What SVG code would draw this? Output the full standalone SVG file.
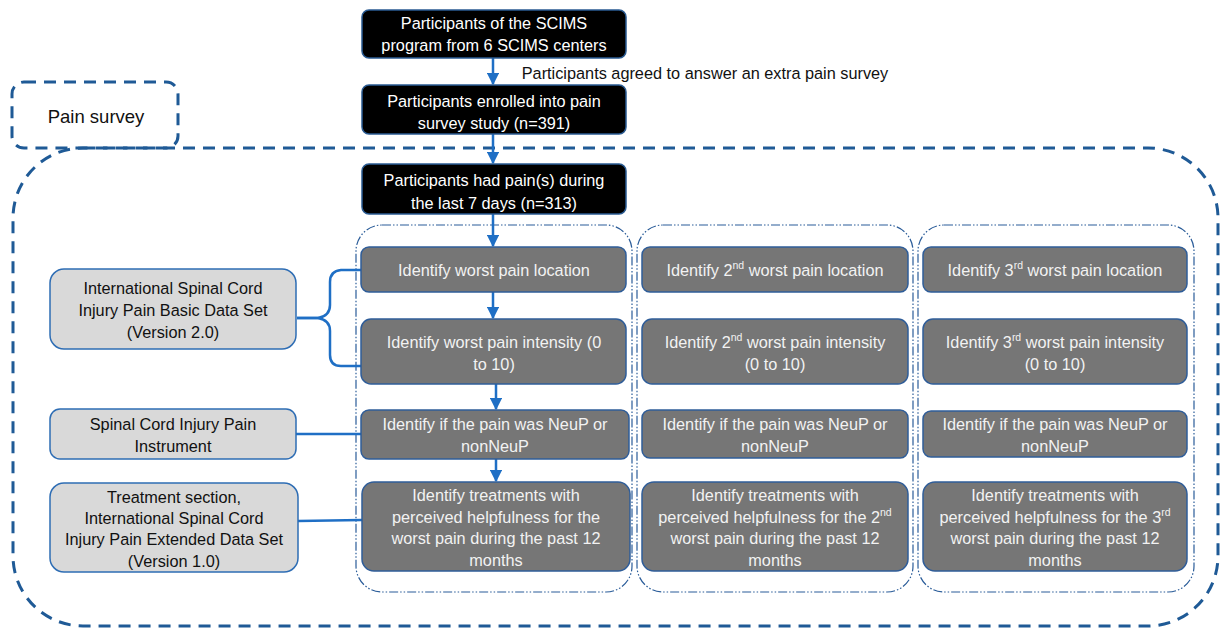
<svg xmlns="http://www.w3.org/2000/svg" width="1222" height="629" viewBox="0 0 1222 629">
<defs>
<marker id="ah" viewBox="0 0 10 10" refX="9" refY="5" markerWidth="5" markerHeight="5" orient="auto" markerUnits="strokeWidth">
<path d="M0,0 L10,5 L0,10 z" fill="#1f6fc5"/>
</marker>
<style>
text{font-family:"Liberation Sans",Arial,sans-serif;font-size:16.3px;text-anchor:middle;dominant-baseline:central}
.blk rect{fill:#000;stroke:#2a5b92;stroke-width:1.5}
.blk text{fill:#fff}
.gry rect{fill:#767676;stroke:#2f5d99;stroke-width:1.5}
.gry text{fill:#f2f2f2}
.lgt rect{fill:#d9d9d9;stroke:#2e6db4;stroke-width:1.5}
.lgt text{fill:#111}
.col{fill:none;stroke:#2a5c99;stroke-width:1.2;stroke-dasharray:9 2 1.5 2 1.5 2}
.big{fill:none;stroke:#1f5a96;stroke-width:3;stroke-dasharray:12 8}
.con{fill:none;stroke:#1f6fc5;stroke-width:2.5}
.sup{font-size:10.5px}
</style>
</defs>

<g id="survey-frame">
<rect class="big" x="13" y="148" width="1205" height="478" rx="70"/>
</g>
<g id="pain-survey-label">
<rect class="big" x="12" y="82" width="166" height="66" rx="12"/>
<text x="96" y="116" style="fill:#111;font-size:18.5px">Pain survey</text>
</g>

<g id="columns">
<rect class="col" x="356" y="225" width="276" height="367" rx="26"/>
<rect class="col" x="637" y="225" width="276" height="367" rx="26"/>
<rect class="col" x="918" y="225" width="276" height="367" rx="26"/>
</g>

<g id="connectors">
<line class="con" x1="493" y1="58" x2="493" y2="84" marker-end="url(#ah)"/>
<line class="con" x1="493" y1="134" x2="493" y2="163" marker-end="url(#ah)"/>
<line class="con" x1="493" y1="214" x2="493" y2="246" marker-end="url(#ah)"/>
<line class="con" x1="493" y1="292" x2="493" y2="318" marker-end="url(#ah)"/>
<line class="con" x1="496" y1="384" x2="496" y2="409" marker-end="url(#ah)"/>
<line class="con" x1="496" y1="459" x2="496" y2="481" marker-end="url(#ah)"/>
<path class="con" d="M297,318 L318,318 Q330,316 330,305 L330,282 Q330,271 341,270 L361,270"/>
<path class="con" d="M297,318 L318,318 Q330,320 330,331 L330,355 Q330,366 341,366 L361,366"/>
<line class="con" x1="296" y1="434" x2="361" y2="434"/>
<line class="con" x1="298" y1="521" x2="362" y2="520"/>
</g>
<text x="705" y="73" style="fill:#111">Participants agreed to answer an extra pain survey</text>

<g id="n-scims" class="blk">
<rect x="362" y="10" width="264" height="48" rx="7"/>
<text x="494" y="23">Participants of the SCIMS</text>
<text x="494" y="45">program from 6 SCIMS centers</text>
</g>
<g id="n-enrolled" class="blk">
<rect x="362" y="85" width="264" height="49" rx="7"/>
<text x="494" y="101">Participants enrolled into pain</text>
<text x="494" y="123">survey study (n=391)</text>
</g>
<g id="n-hadpain" class="blk">
<rect x="362" y="164" width="264" height="50" rx="7"/>
<text x="494" y="180">Participants had pain(s) during</text>
<text x="494" y="203">the last 7 days (n=313)</text>
</g>

<g id="n-basic" class="lgt">
<rect x="50" y="269" width="246" height="80" rx="14"/>
<text x="173" y="288">International Spinal Cord</text>
<text x="173" y="310">Injury Pain Basic Data Set</text>
<text x="173" y="332">(Version 2.0)</text>
</g>
<g id="n-instrument" class="lgt">
<rect x="50" y="409" width="246" height="50" rx="10"/>
<text x="173" y="424">Spinal Cord Injury Pain</text>
<text x="173" y="446">Instrument</text>
</g>
<g id="n-extended" class="lgt">
<rect x="50" y="483" width="248" height="89" rx="14"/>
<text x="174" y="497">Treatment section,</text>
<text x="174" y="518">International Spinal Cord</text>
<text x="174" y="539">Injury Pain Extended Data Set</text>
<text x="174" y="561">(Version 1.0)</text>
</g>

<g id="c1-location" class="gry">
<rect x="361" y="247" width="265" height="45" rx="8"/>
<text x="494" y="270">Identify worst pain location</text>
</g>
<g id="c1-intensity" class="gry">
<rect x="361" y="319" width="265" height="65" rx="10"/>
<text x="494" y="342">Identify worst pain intensity (0</text>
<text x="494" y="364">to 10)</text>
</g>
<g id="c1-neup" class="gry">
<rect x="361" y="410" width="268" height="49" rx="8"/>
<text x="495" y="424">Identify if the pain was NeuP or</text>
<text x="495" y="446">nonNeuP</text>
</g>
<g id="c1-treat" class="gry">
<rect x="362" y="482" width="268" height="89" rx="12"/>
<text x="496" y="495">Identify treatments with</text>
<text x="496" y="517">perceived helpfulness for the</text>
<text x="496" y="538">worst pain during the past 12</text>
<text x="496" y="560">months</text>
</g>

<g id="c2-location" class="gry">
<rect x="642" y="247" width="266" height="45" rx="8"/>
<text x="775" y="270">Identify 2<tspan class="sup" dy="-5">nd</tspan><tspan dy="5"> worst pain location</tspan></text>
</g>
<g id="c2-intensity" class="gry">
<rect x="642" y="319" width="266" height="65" rx="10"/>
<text x="775" y="342">Identify 2<tspan class="sup" dy="-5">nd</tspan><tspan dy="5"> worst pain intensity</tspan></text>
<text x="775" y="364">(0 to 10)</text>
</g>
<g id="c2-neup" class="gry">
<rect x="642" y="410" width="266" height="48" rx="8"/>
<text x="775" y="424">Identify if the pain was NeuP or</text>
<text x="775" y="446">nonNeuP</text>
</g>
<g id="c2-treat" class="gry">
<rect x="642" y="482" width="266" height="89" rx="12"/>
<text x="775" y="495">Identify treatments with</text>
<text x="775" y="517">perceived helpfulness for the 2<tspan class="sup" dy="-5">nd</tspan></text>
<text x="775" y="538">worst pain during the past 12</text>
<text x="775" y="560">months</text>
</g>

<g id="c3-location" class="gry">
<rect x="923" y="247" width="264" height="45" rx="8"/>
<text x="1055" y="270">Identify 3<tspan class="sup" dy="-5">rd</tspan><tspan dy="5"> worst pain location</tspan></text>
</g>
<g id="c3-intensity" class="gry">
<rect x="923" y="319" width="264" height="65" rx="10"/>
<text x="1055" y="342">Identify 3<tspan class="sup" dy="-5">rd</tspan><tspan dy="5"> worst pain intensity</tspan></text>
<text x="1055" y="364">(0 to 10)</text>
</g>
<g id="c3-neup" class="gry">
<rect x="923" y="411" width="264" height="46" rx="8"/>
<text x="1055" y="424">Identify if the pain was NeuP or</text>
<text x="1055" y="446">nonNeuP</text>
</g>
<g id="c3-treat" class="gry">
<rect x="923" y="482" width="264" height="89" rx="12"/>
<text x="1055" y="495">Identify treatments with</text>
<text x="1055" y="517">perceived helpfulness for the 3<tspan class="sup" dy="-5">rd</tspan></text>
<text x="1055" y="538">worst pain during the past 12</text>
<text x="1055" y="560">months</text>
</g>
</svg>
